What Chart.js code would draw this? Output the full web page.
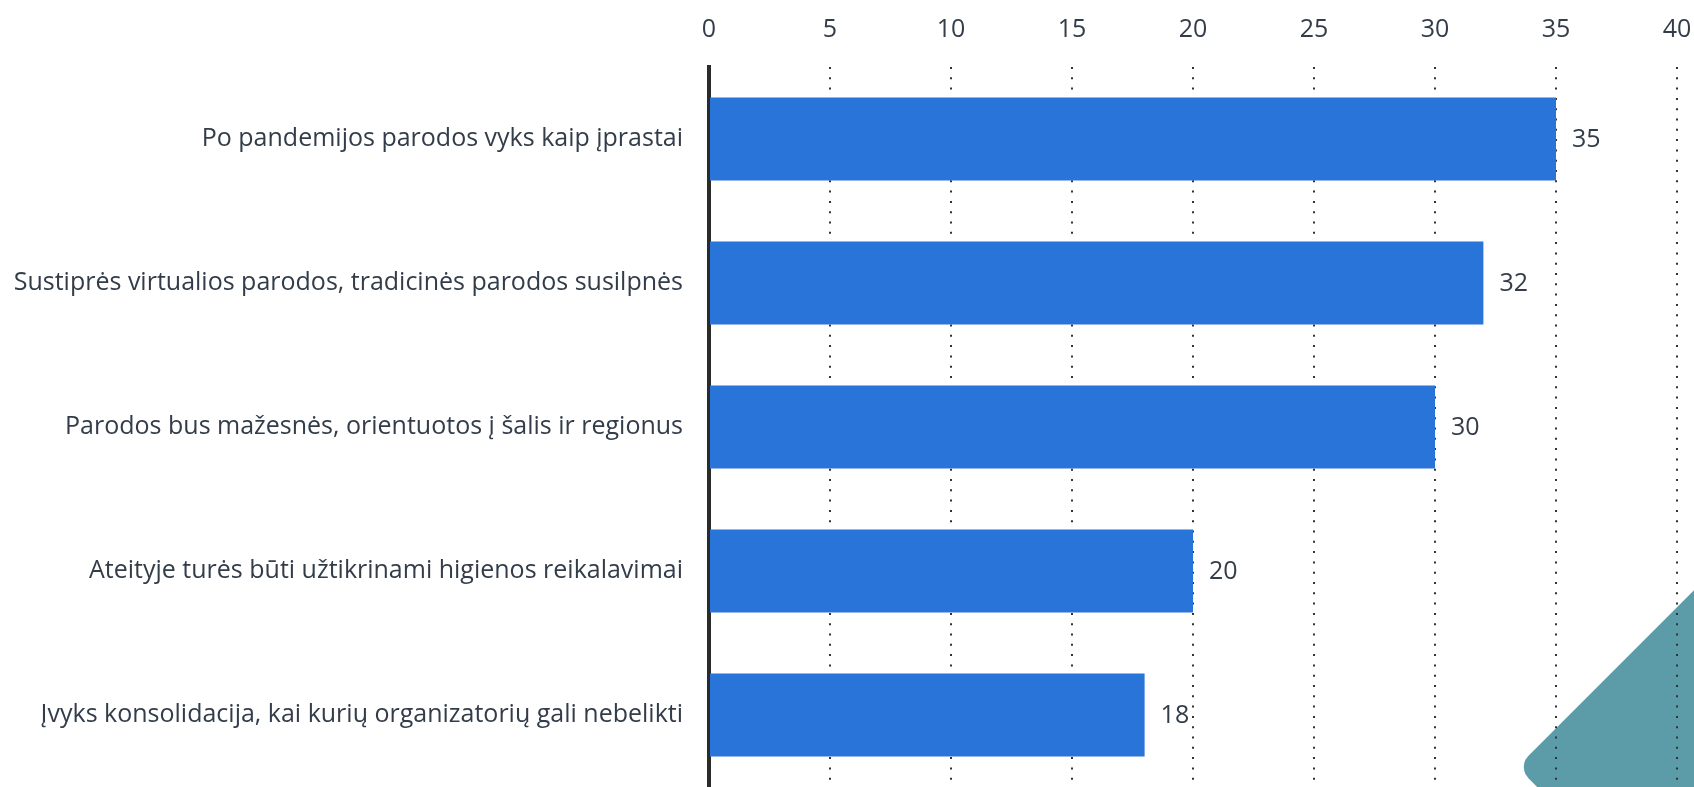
<!DOCTYPE html>
<html>
<head>
<meta charset="utf-8">
<script src="https://cdn.jsdelivr.net/npm/chart.js@4.4.1/dist/chart.umd.min.js"></script>
<style>
  html, body { margin: 0; padding: 0; background: #fff; overflow: hidden; }
  #wrap { position: relative; width: 1694px; height: 787px; overflow: hidden; }
  #deco {
    position: absolute; width: 400px; height: 400px;
    left: 1600px; top: 567px;
    background: #5b9ca8; border-radius: 16px;
    transform: rotate(45deg);
  }
  canvas { position: absolute; left: 0; top: 0; }
</style>
</head>
<body>
<div id="wrap">
  <div id="deco"></div>
  <canvas id="chart" width="1694" height="787"></canvas>
</div>
<script>
const categories = [
  "Po pandemijos parodos vyks kaip įprastai",
  "Sustiprės virtualios parodos, tradicinės parodos susilpnės",
  "Parodos bus mažesnės, orientuotos į šalis ir regionus",
  "Ateityje turės būti užtikrinami higienos reikalavimai",
  "Įvyks konsolidacija, kai kurių organizatorių gali nebelikti"
];
const values = [35, 32, 30, 20, 18];
const xMin = 0, xMax = 40, xStep = 5;

const textColor = "#333d4a";
const fontFamily = "'Open Sans', 'Noto Sans', sans-serif";

// value labels to the right of each bar
const valueLabels = {
  id: "valueLabels",
  afterDatasetsDraw(chart) {
    const ctx = chart.ctx;
    const meta = chart.getDatasetMeta(0);
    ctx.save();
    ctx.font = "25px " + fontFamily;
    ctx.fillStyle = textColor;
    ctx.textAlign = "left";
    ctx.textBaseline = "middle";
    meta.data.forEach((bar, i) => {
      ctx.fillText(values[i], bar.x + 16, bar.y + 1);
    });
    ctx.restore();
  }
};

new Chart(document.getElementById("chart"), {
  type: "bar",
  data: {
    labels: categories,
    datasets: [{
      data: values,
      backgroundColor: "#2874d9",
      barPercentage: 0.575,
      categoryPercentage: 1
    }]
  },
  options: {
    indexAxis: "y",
    responsive: false,
    animation: false,
    layout: { padding: { right: 17, bottom: 0, top: 0, left: 0 } },
    plugins: { legend: { display: false }, tooltip: { enabled: false } },
    scales: {
      x: {
        position: "top",
        min: xMin, max: xMax,
        ticks: { stepSize: xStep, color: textColor, font: { family: fontFamily, size: 25 }, padding: 22 },
        grid: { color: "#333", lineWidth: 2, drawTicks: false },
        border: { display: false, dash: [2, 8.3] },
        afterFit(scale) {
          scale.height = 67;
          scale.paddingLeft = 0;
          scale.paddingRight = 0;
        }
      },
      y: {
        ticks: { color: textColor, font: { family: fontFamily, size: 25 }, padding: 26 },
        grid: { display: false, drawTicks: false },
        border: { display: true, color: "#2b2b2b", width: 4 },
        afterFit(scale) {
          scale.width = 709;
          scale.paddingTop = 0;
          scale.paddingBottom = 0;
        }
      }
    }
  },
  plugins: [valueLabels]
});
</script>
</body>
</html>
